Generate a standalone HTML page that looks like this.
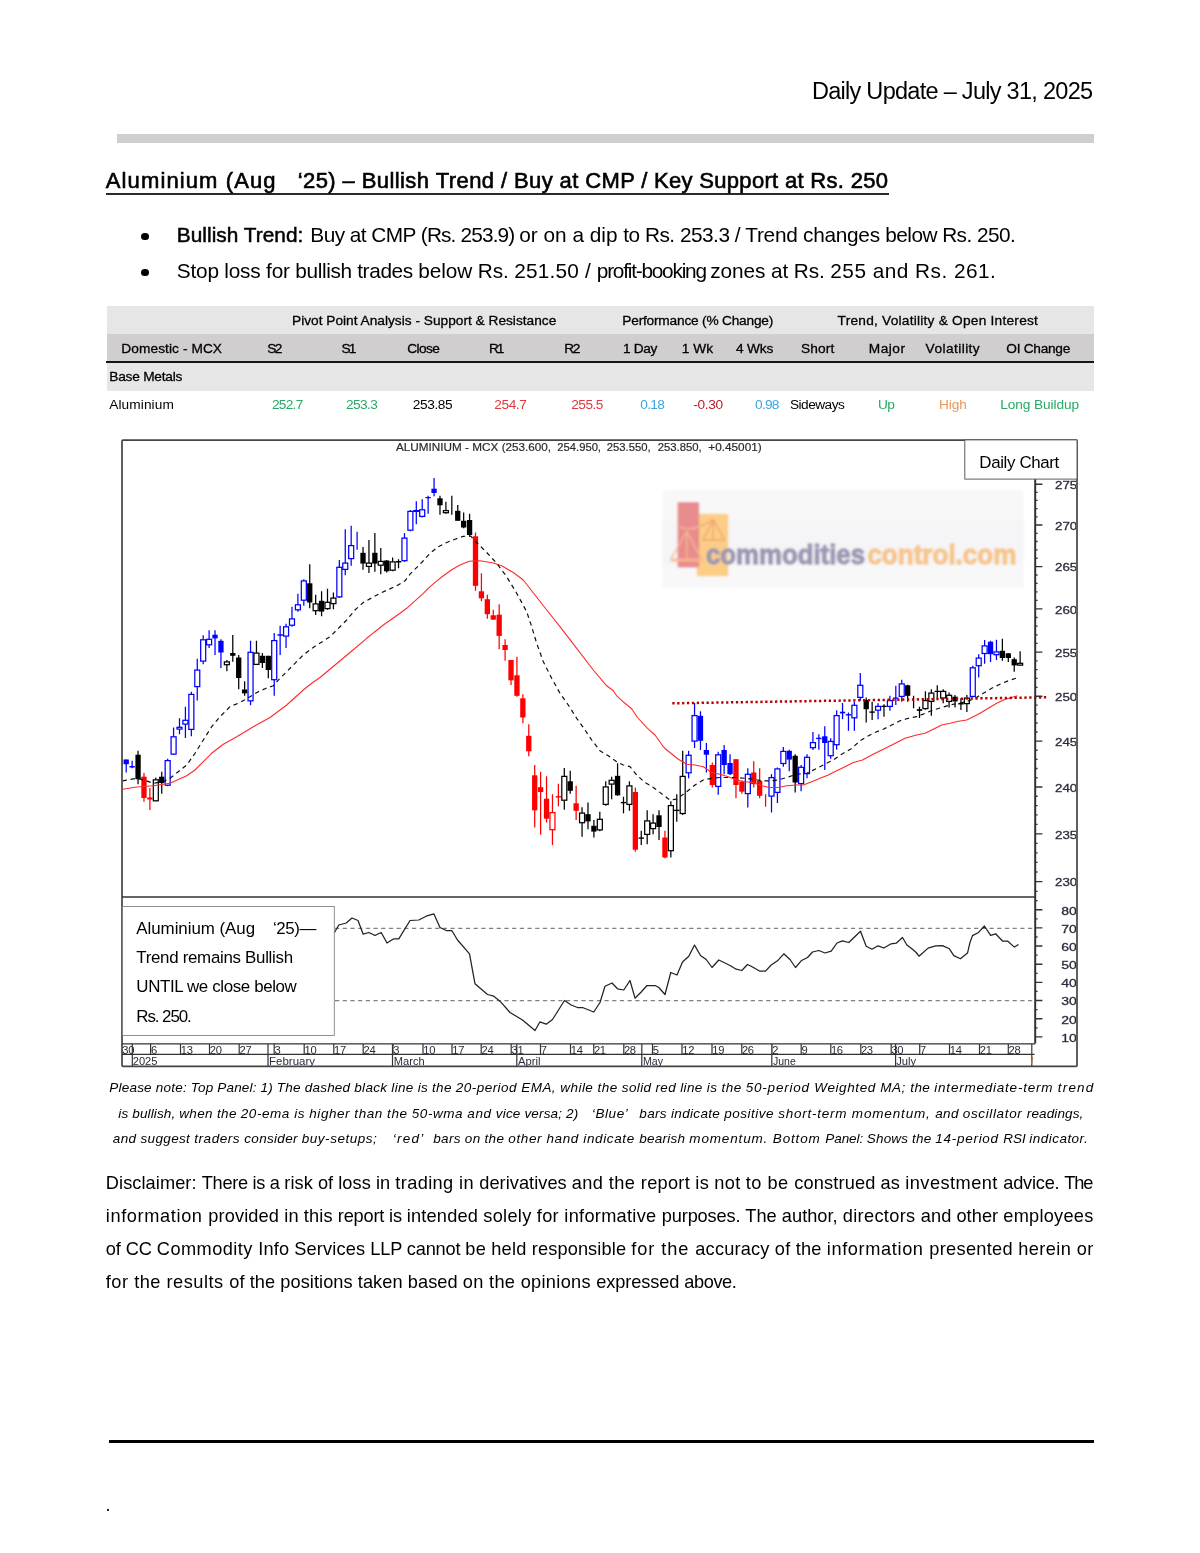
<!DOCTYPE html>
<html><head><meta charset="utf-8"><title>Daily Update</title>
<style>
html,body{margin:0;padding:0;background:#fff;}
body{width:1200px;height:1553px;position:relative;overflow:hidden;font-family:"Liberation Sans", sans-serif;color:#000;}
.t{position:absolute;white-space:pre;}
.r{position:absolute;}
</style></head><body>
<!-- header rule -->
<div class="r" style="left:117px;top:134.3px;width:976.8px;height:8.45px;background:#d0cecf;"></div>
<!-- title underline -->
<div class="r" style="left:106px;top:193px;width:783px;height:1.8px;background:#2a2a2a;"></div>
<!-- bullets -->
<div class="r" style="left:141.3px;top:232.7px;width:7.4px;height:7.4px;border-radius:50%;background:#000;"></div>
<div class="r" style="left:141.3px;top:269.1px;width:7.4px;height:7.4px;border-radius:50%;background:#000;"></div>
<!-- table backgrounds -->
<div class="r" style="left:107px;top:306.1px;width:987px;height:27.8px;background:#e7e6e6;"></div>
<div class="r" style="left:107px;top:333.8px;width:987px;height:27.5px;background:#d0cecf;"></div>
<div class="r" style="left:106.3px;top:360.9px;width:987.7px;height:2.1px;background:#151515;"></div>
<div class="r" style="left:107px;top:363px;width:987px;height:27.8px;background:#e7e6e6;"></div>
<!-- chart -->
<svg class="r" style="left:0;top:0" width="1200" height="1553" viewBox="0 0 1200 1553" font-family="Liberation Sans, sans-serif">
<defs><filter id="bl" x="-2%" y="-2%" width="104%" height="104%"><feGaussianBlur stdDeviation="0.55"/></filter><filter id="bl2" x="-5%" y="-20%" width="110%" height="140%"><feGaussianBlur stdDeviation="0.9"/></filter><clipPath id="cp"><rect x="120.5" y="438.5" width="958.5" height="629"/></clipPath><clipPath id="lab"><rect x="1040" y="441" width="36.0" height="620"/></clipPath><clipPath id="plot"><rect x="122.5" y="441" width="912" height="456"/></clipPath></defs>
<g filter="url(#bl)" clip-path="url(#cp)">
<g filter="url(#bl2)">
<rect x="662.5" y="490" width="361" height="97.5" fill="#f8f8f9"/>
<rect x="662.5" y="520" width="361" height="45" fill="#f5f5f7"/>
<rect x="696.7" y="513.7" width="31.6" height="62.6" rx="1.5" fill="#fccd86"/>
<rect x="677.5" y="502" width="21.7" height="65.5" rx="1.5" fill="#e98c8e"/>
<g stroke="#f6b890" stroke-width="1.4" fill="none" stroke-linejoin="round"><path d="M670.8 559.2 L686.7 531.7 L701.7 559.2 Z"/><path d="M686.7 531.7 V559"/><path d="M670.8 561 H701.7"/><path d="M679 526.7 Q690 531 700 526"/></g>
<g stroke="#f0a272" stroke-width="1.4" fill="none" stroke-linejoin="round"><path d="M702.9 540 L713.3 520 L724.6 540 Z"/><path d="M713.3 520 V540"/><path d="M700 526 Q708 524 713.3 519.2"/></g>
<text x="706" y="564" font-size="28.5" font-weight="700" fill="#9d98b4" stroke="#9d98b4" stroke-width="1.3" stroke-linejoin="round" textLength="159" lengthAdjust="spacingAndGlyphs">commodities</text>
<text x="867.4" y="564" font-size="28.5" font-weight="700" fill="#f6c68c" stroke="#f6c68c" stroke-width="1.3" stroke-linejoin="round" textLength="149" lengthAdjust="spacingAndGlyphs">control.com</text>
</g>
<g clip-path="url(#plot)">
<path d="M120.30 759.5V770.0" stroke="#0000ff" stroke-width="1.25"/>
<rect x="117.65" y="759.5" width="5.3" height="4.7" fill="#0000ff"/>
<path d="M126.22 759.5V772.5" stroke="#0000ff" stroke-width="1.25"/>
<rect x="123.57" y="759.5" width="5.3" height="4.7" fill="#0000ff"/>
<path d="M132.14 760.8V768.3" stroke="#0000ff" stroke-width="1.25"/>
<path d="M129.44 766.7H134.84" stroke="#0000ff" stroke-width="1.4"/>
<path d="M138.06 750.8V784.2" stroke="#000000" stroke-width="1.25"/>
<rect x="135.41" y="754.7" width="5.3" height="24.5" fill="#000000"/>
<path d="M143.98 773.0V801.7" stroke="#ff0000" stroke-width="1.25"/>
<rect x="141.33" y="776.7" width="5.3" height="21.3" fill="#ff0000"/>
<path d="M149.90 788.0V810.0" stroke="#ff0000" stroke-width="1.25"/>
<rect x="147.25" y="797.5" width="5.3" height="2.0" fill="#ff0000"/>
<path d="M155.82 777.5V801.3" stroke="#000000" stroke-width="1.25"/>
<rect x="153.32" y="779.8" width="5.0" height="21.0" fill="#fff" stroke="#000000" stroke-width="1.25"/>
<path d="M161.74 771.7V793.8" stroke="#000000" stroke-width="1.25"/>
<rect x="159.09" y="776.7" width="5.3" height="6.3" fill="#000000"/>
<path d="M167.66 758.8V786.3" stroke="#0000ff" stroke-width="1.25"/>
<rect x="165.16" y="760.6" width="5.0" height="24.6" fill="#fff" stroke="#0000ff" stroke-width="1.25"/>
<path d="M173.58 727.5V755.0" stroke="#0000ff" stroke-width="1.25"/>
<rect x="171.08" y="736.8" width="5.0" height="17.3" fill="#fff" stroke="#0000ff" stroke-width="1.25"/>
<path d="M179.50 718.3V734.2" stroke="#0000ff" stroke-width="1.25"/>
<rect x="177.00" y="727.3" width="5.0" height="1.8" fill="#fff" stroke="#0000ff" stroke-width="1.25"/>
<path d="M185.42 706.7V738.0" stroke="#0000ff" stroke-width="1.25"/>
<rect x="182.92" y="720.3" width="5.0" height="3.8" fill="#fff" stroke="#0000ff" stroke-width="1.25"/>
<path d="M191.34 691.7V736.3" stroke="#0000ff" stroke-width="1.25"/>
<rect x="188.84" y="694.4" width="5.0" height="35.0" fill="#fff" stroke="#0000ff" stroke-width="1.25"/>
<path d="M197.26 658.7V700.5" stroke="#0000ff" stroke-width="1.25"/>
<rect x="194.76" y="670.1" width="5.0" height="16.5" fill="#fff" stroke="#0000ff" stroke-width="1.25"/>
<path d="M203.18 635.3V664.2" stroke="#0000ff" stroke-width="1.25"/>
<rect x="200.68" y="639.8" width="5.0" height="21.3" fill="#fff" stroke="#0000ff" stroke-width="1.25"/>
<path d="M209.10 630.3V648.0" stroke="#0000ff" stroke-width="1.25"/>
<rect x="206.60" y="639.3" width="5.0" height="5.5" fill="#fff" stroke="#0000ff" stroke-width="1.25"/>
<path d="M215.02 630.3V655.0" stroke="#0000ff" stroke-width="1.25"/>
<rect x="212.37" y="634.7" width="5.3" height="3.7" fill="#0000ff"/>
<path d="M220.94 639.2V668.0" stroke="#0000ff" stroke-width="1.25"/>
<rect x="218.29" y="640.8" width="5.3" height="11.7" fill="#0000ff"/>
<path d="M226.86 660.0V671.3" stroke="#000000" stroke-width="1.25"/>
<rect x="224.36" y="661.9" width="5.0" height="2.8" fill="#fff" stroke="#000000" stroke-width="1.25"/>
<path d="M232.78 635.0V661.7" stroke="#000000" stroke-width="1.25"/>
<rect x="230.13" y="653.0" width="5.3" height="2.8" fill="#000000"/>
<path d="M238.70 655.0V689.2" stroke="#000000" stroke-width="1.25"/>
<rect x="236.05" y="657.5" width="5.3" height="20.5" fill="#000000"/>
<path d="M244.62 681.3V695.8" stroke="#000000" stroke-width="1.25"/>
<rect x="241.97" y="689.5" width="5.3" height="3.8" fill="#000000"/>
<path d="M250.54 640.8V705.3" stroke="#0000ff" stroke-width="1.25"/>
<rect x="248.04" y="652.3" width="5.0" height="48.5" fill="#fff" stroke="#0000ff" stroke-width="1.25"/>
<path d="M256.46 640.8V665.0" stroke="#000000" stroke-width="1.25"/>
<rect x="253.96" y="653.1" width="5.0" height="11.3" fill="#fff" stroke="#000000" stroke-width="1.25"/>
<path d="M262.38 653.0V668.0" stroke="#000000" stroke-width="1.25"/>
<rect x="259.73" y="655.8" width="5.3" height="7.2" fill="#000000"/>
<path d="M268.30 655.8V678.3" stroke="#000000" stroke-width="1.25"/>
<rect x="265.65" y="655.8" width="5.3" height="14.2" fill="#000000"/>
<path d="M274.22 633.0V695.8" stroke="#0000ff" stroke-width="1.25"/>
<rect x="271.72" y="640.6" width="5.0" height="39.1" fill="#fff" stroke="#0000ff" stroke-width="1.25"/>
<path d="M280.14 625.8V655.0" stroke="#0000ff" stroke-width="1.25"/>
<path d="M277.44 635.0H282.84" stroke="#0000ff" stroke-width="1.4"/>
<path d="M286.06 623.7V648.0" stroke="#0000ff" stroke-width="1.25"/>
<rect x="283.56" y="626.8" width="5.0" height="9.3" fill="#fff" stroke="#0000ff" stroke-width="1.25"/>
<path d="M291.98 606.7V626.7" stroke="#0000ff" stroke-width="1.25"/>
<rect x="289.48" y="618.9" width="5.0" height="6.3" fill="#fff" stroke="#0000ff" stroke-width="1.25"/>
<path d="M297.90 593.7V611.7" stroke="#0000ff" stroke-width="1.25"/>
<rect x="295.40" y="604.8" width="5.0" height="5.0" fill="#fff" stroke="#0000ff" stroke-width="1.25"/>
<path d="M303.82 579.2V605.8" stroke="#0000ff" stroke-width="1.25"/>
<rect x="301.32" y="580.9" width="5.0" height="19.3" fill="#fff" stroke="#0000ff" stroke-width="1.25"/>
<path d="M309.74 564.2V608.3" stroke="#000000" stroke-width="1.25"/>
<rect x="307.09" y="583.3" width="5.3" height="19.2" fill="#000000"/>
<path d="M315.66 594.7V615.0" stroke="#000000" stroke-width="1.25"/>
<rect x="313.16" y="603.9" width="5.0" height="6.8" fill="#fff" stroke="#000000" stroke-width="1.25"/>
<path d="M321.58 591.3V616.3" stroke="#000000" stroke-width="1.25"/>
<rect x="318.93" y="600.8" width="5.3" height="10.8" fill="#000000"/>
<path d="M327.50 588.7V609.7" stroke="#000000" stroke-width="1.25"/>
<rect x="325.00" y="602.3" width="5.0" height="6.3" fill="#fff" stroke="#000000" stroke-width="1.25"/>
<path d="M333.42 592.5V609.2" stroke="#000000" stroke-width="1.25"/>
<rect x="330.92" y="598.1" width="5.0" height="5.5" fill="#fff" stroke="#000000" stroke-width="1.25"/>
<path d="M339.34 560.0V598.0" stroke="#0000ff" stroke-width="1.25"/>
<rect x="336.84" y="567.3" width="5.0" height="29.6" fill="#fff" stroke="#0000ff" stroke-width="1.25"/>
<path d="M345.26 529.2V575.3" stroke="#0000ff" stroke-width="1.25"/>
<rect x="342.76" y="563.1" width="5.0" height="6.3" fill="#fff" stroke="#0000ff" stroke-width="1.25"/>
<path d="M351.18 525.8V565.8" stroke="#0000ff" stroke-width="1.25"/>
<rect x="348.68" y="545.6" width="5.0" height="13.0" fill="#fff" stroke="#0000ff" stroke-width="1.25"/>
<path d="M357.10 531.7V549.7" stroke="#0000ff" stroke-width="1.25"/>
<path d="M363.02 547.0V569.7" stroke="#000000" stroke-width="1.25"/>
<rect x="360.37" y="552.8" width="5.3" height="10.8" fill="#000000"/>
<path d="M368.94 540.0V573.0" stroke="#000000" stroke-width="1.25"/>
<rect x="366.44" y="563.1" width="5.0" height="3.3" fill="#fff" stroke="#000000" stroke-width="1.25"/>
<path d="M374.86 533.0V571.7" stroke="#000000" stroke-width="1.25"/>
<rect x="372.21" y="552.8" width="5.3" height="10.8" fill="#000000"/>
<path d="M380.78 548.0V574.2" stroke="#000000" stroke-width="1.25"/>
<rect x="378.28" y="561.4" width="5.0" height="3.8" fill="#fff" stroke="#000000" stroke-width="1.25"/>
<path d="M386.70 560.0V572.5" stroke="#000000" stroke-width="1.25"/>
<rect x="384.05" y="560.5" width="5.3" height="10.8" fill="#000000"/>
<path d="M392.62 557.5V571.3" stroke="#000000" stroke-width="1.25"/>
<rect x="390.12" y="561.9" width="5.0" height="8.3" fill="#fff" stroke="#000000" stroke-width="1.25"/>
<path d="M398.54 559.2V568.3" stroke="#000000" stroke-width="1.25"/>
<path d="M395.84 561.8H401.24" stroke="#000000" stroke-width="1.4"/>
<path d="M404.46 533.0V561.7" stroke="#0000ff" stroke-width="1.25"/>
<rect x="401.96" y="538.1" width="5.0" height="22.6" fill="#fff" stroke="#0000ff" stroke-width="1.25"/>
<path d="M410.38 510.0V531.3" stroke="#0000ff" stroke-width="1.25"/>
<rect x="407.88" y="511.4" width="5.0" height="18.8" fill="#fff" stroke="#0000ff" stroke-width="1.25"/>
<path d="M416.30 501.3V524.2" stroke="#0000ff" stroke-width="1.25"/>
<rect x="413.80" y="510.6" width="5.0" height="0.8" fill="#fff" stroke="#0000ff" stroke-width="1.25"/>
<path d="M422.22 499.2V517.5" stroke="#0000ff" stroke-width="1.25"/>
<rect x="419.72" y="509.8" width="5.0" height="6.6" fill="#fff" stroke="#0000ff" stroke-width="1.25"/>
<path d="M428.14 495.8V513.7" stroke="#0000ff" stroke-width="1.25"/>
<path d="M425.44 497.6H430.84" stroke="#0000ff" stroke-width="1.4"/>
<path d="M434.06 478.0V496.3" stroke="#0000ff" stroke-width="1.25"/>
<rect x="431.41" y="488.7" width="5.3" height="4.3" fill="#0000ff"/>
<path d="M439.98 495.8V514.7" stroke="#000000" stroke-width="1.25"/>
<rect x="437.33" y="498.3" width="5.3" height="7.0" fill="#000000"/>
<path d="M445.90 501.7V513.7" stroke="#000000" stroke-width="1.25"/>
<rect x="443.40" y="510.6" width="5.0" height="2.1" fill="#fff" stroke="#000000" stroke-width="1.25"/>
<path d="M451.82 495.8V514.7" stroke="#000000" stroke-width="1.25"/>
<path d="M457.74 505.0V520.8" stroke="#000000" stroke-width="1.25"/>
<rect x="455.09" y="510.8" width="5.3" height="10.0" fill="#000000"/>
<path d="M463.66 512.5V528.3" stroke="#000000" stroke-width="1.25"/>
<rect x="461.01" y="520.8" width="5.3" height="6.7" fill="#000000"/>
<path d="M469.58 513.7V536.7" stroke="#000000" stroke-width="1.25"/>
<rect x="466.93" y="520.0" width="5.3" height="15.0" fill="#000000"/>
<path d="M475.50 532.5V590.8" stroke="#ff0000" stroke-width="1.25"/>
<rect x="472.85" y="536.3" width="5.3" height="49.5" fill="#ff0000"/>
<path d="M481.42 573.3V601.3" stroke="#ff0000" stroke-width="1.25"/>
<rect x="478.77" y="591.3" width="5.3" height="7.0" fill="#ff0000"/>
<path d="M487.34 594.7V618.7" stroke="#ff0000" stroke-width="1.25"/>
<rect x="484.69" y="599.2" width="5.3" height="15.0" fill="#ff0000"/>
<path d="M493.26 609.7V620.0" stroke="#ff0000" stroke-width="1.25"/>
<rect x="490.61" y="615.3" width="5.3" height="4.3" fill="#ff0000"/>
<path d="M499.18 604.2V649.2" stroke="#ff0000" stroke-width="1.25"/>
<rect x="496.53" y="614.7" width="5.3" height="21.2" fill="#ff0000"/>
<path d="M505.10 639.2V660.8" stroke="#ff0000" stroke-width="1.25"/>
<rect x="502.45" y="645.0" width="5.3" height="5.0" fill="#ff0000"/>
<path d="M511.02 660.0V685.0" stroke="#ff0000" stroke-width="1.25"/>
<rect x="508.37" y="660.0" width="5.3" height="20.3" fill="#ff0000"/>
<path d="M516.94 656.7V696.7" stroke="#ff0000" stroke-width="1.25"/>
<rect x="514.29" y="675.3" width="5.3" height="20.5" fill="#ff0000"/>
<path d="M522.86 694.2V723.3" stroke="#ff0000" stroke-width="1.25"/>
<rect x="520.21" y="698.3" width="5.3" height="19.2" fill="#ff0000"/>
<path d="M528.78 724.2V756.3" stroke="#ff0000" stroke-width="1.25"/>
<rect x="526.13" y="735.8" width="5.3" height="15.5" fill="#ff0000"/>
<path d="M534.70 765.0V827.5" stroke="#ff0000" stroke-width="1.25"/>
<rect x="532.05" y="775.3" width="5.3" height="35.0" fill="#ff0000"/>
<path d="M540.62 771.7V834.7" stroke="#ff0000" stroke-width="1.25"/>
<rect x="537.97" y="787.2" width="5.3" height="4.8" fill="#ff0000"/>
<path d="M546.54 776.3V822.5" stroke="#ff0000" stroke-width="1.25"/>
<rect x="543.89" y="798.7" width="5.3" height="20.0" fill="#ff0000"/>
<path d="M552.46 794.2V845.0" stroke="#ff0000" stroke-width="1.25"/>
<rect x="549.96" y="812.6" width="5.0" height="17.1" fill="#fff" stroke="#ff0000" stroke-width="1.25"/>
<path d="M558.38 783.7V806.3" stroke="#ff0000" stroke-width="1.25"/>
<path d="M555.68 796.8H561.08" stroke="#ff0000" stroke-width="1.4"/>
<path d="M564.30 768.0V809.7" stroke="#000000" stroke-width="1.25"/>
<rect x="561.80" y="776.4" width="5.0" height="23.8" fill="#fff" stroke="#000000" stroke-width="1.25"/>
<path d="M570.22 770.8V793.7" stroke="#000000" stroke-width="1.25"/>
<rect x="567.57" y="781.3" width="5.3" height="9.5" fill="#000000"/>
<path d="M576.14 785.8V820.0" stroke="#ff0000" stroke-width="1.25"/>
<rect x="573.49" y="803.3" width="5.3" height="7.5" fill="#ff0000"/>
<path d="M582.06 807.2V836.7" stroke="#000000" stroke-width="1.25"/>
<rect x="579.56" y="813.1" width="5.0" height="9.6" fill="#fff" stroke="#000000" stroke-width="1.25"/>
<path d="M587.98 802.5V829.2" stroke="#000000" stroke-width="1.25"/>
<rect x="585.33" y="814.2" width="5.3" height="7.2" fill="#000000"/>
<path d="M593.90 820.0V837.5" stroke="#000000" stroke-width="1.25"/>
<rect x="591.25" y="825.8" width="5.3" height="5.8" fill="#000000"/>
<path d="M599.82 811.7V831.3" stroke="#000000" stroke-width="1.25"/>
<rect x="597.32" y="819.3" width="5.0" height="10.6" fill="#fff" stroke="#000000" stroke-width="1.25"/>
<path d="M605.74 781.3V805.8" stroke="#000000" stroke-width="1.25"/>
<rect x="603.24" y="786.9" width="5.0" height="17.5" fill="#fff" stroke="#000000" stroke-width="1.25"/>
<path d="M611.66 776.7V799.2" stroke="#000000" stroke-width="1.25"/>
<rect x="609.16" y="780.3" width="5.0" height="3.8" fill="#fff" stroke="#000000" stroke-width="1.25"/>
<path d="M617.58 763.3V795.8" stroke="#000000" stroke-width="1.25"/>
<rect x="614.93" y="775.8" width="5.3" height="19.5" fill="#000000"/>
<path d="M623.50 796.7V813.3" stroke="#000000" stroke-width="1.25"/>
<path d="M620.80 802.6H626.20" stroke="#000000" stroke-width="1.4"/>
<path d="M629.42 781.3V810.8" stroke="#000000" stroke-width="1.25"/>
<rect x="626.92" y="785.9" width="5.0" height="18.5" fill="#fff" stroke="#000000" stroke-width="1.25"/>
<path d="M635.34 787.5V851.7" stroke="#ff0000" stroke-width="1.25"/>
<rect x="632.69" y="792.0" width="5.3" height="57.7" fill="#ff0000"/>
<path d="M641.26 830.8V845.0" stroke="#000000" stroke-width="1.25"/>
<path d="M638.56 838.1H643.96" stroke="#000000" stroke-width="1.4"/>
<path d="M647.18 810.3V844.2" stroke="#000000" stroke-width="1.25"/>
<rect x="644.68" y="820.9" width="5.0" height="13.5" fill="#fff" stroke="#000000" stroke-width="1.25"/>
<path d="M653.10 814.2V834.2" stroke="#000000" stroke-width="1.25"/>
<rect x="650.60" y="823.1" width="5.0" height="5.5" fill="#fff" stroke="#000000" stroke-width="1.25"/>
<path d="M659.02 810.3V840.0" stroke="#000000" stroke-width="1.25"/>
<rect x="656.37" y="815.3" width="5.3" height="11.7" fill="#000000"/>
<path d="M664.94 830.8V858.3" stroke="#ff0000" stroke-width="1.25"/>
<rect x="662.29" y="837.5" width="5.3" height="20.0" fill="#ff0000"/>
<path d="M670.86 801.3V857.5" stroke="#000000" stroke-width="1.25"/>
<rect x="668.36" y="805.6" width="5.0" height="45.1" fill="#fff" stroke="#000000" stroke-width="1.25"/>
<path d="M676.78 794.2V821.7" stroke="#000000" stroke-width="1.25"/>
<path d="M674.08 810.4H679.48" stroke="#000000" stroke-width="1.4"/>
<path d="M682.70 750.8V815.0" stroke="#000000" stroke-width="1.25"/>
<rect x="680.20" y="776.4" width="5.0" height="37.1" fill="#fff" stroke="#000000" stroke-width="1.25"/>
<path d="M688.62 750.8V778.3" stroke="#0000ff" stroke-width="1.25"/>
<rect x="686.12" y="755.3" width="5.0" height="17.5" fill="#fff" stroke="#0000ff" stroke-width="1.25"/>
<path d="M694.54 703.0V748.0" stroke="#0000ff" stroke-width="1.25"/>
<rect x="692.04" y="715.6" width="5.0" height="25.5" fill="#fff" stroke="#0000ff" stroke-width="1.25"/>
<path d="M700.46 711.3V750.0" stroke="#0000ff" stroke-width="1.25"/>
<rect x="697.81" y="715.8" width="5.3" height="25.0" fill="#0000ff"/>
<path d="M706.38 743.0V772.5" stroke="#0000ff" stroke-width="1.25"/>
<rect x="703.73" y="750.0" width="5.3" height="4.7" fill="#0000ff"/>
<path d="M712.30 762.5V787.5" stroke="#ff0000" stroke-width="1.25"/>
<rect x="709.65" y="765.0" width="5.3" height="20.0" fill="#ff0000"/>
<path d="M718.22 751.7V794.7" stroke="#0000ff" stroke-width="1.25"/>
<rect x="715.72" y="754.8" width="5.0" height="31.6" fill="#fff" stroke="#0000ff" stroke-width="1.25"/>
<path d="M724.14 745.0V774.2" stroke="#0000ff" stroke-width="1.25"/>
<rect x="721.49" y="750.0" width="5.3" height="15.0" fill="#0000ff"/>
<path d="M730.06 754.2V775.0" stroke="#0000ff" stroke-width="1.25"/>
<rect x="727.41" y="763.0" width="5.3" height="11.2" fill="#0000ff"/>
<path d="M735.98 759.2V798.3" stroke="#ff0000" stroke-width="1.25"/>
<rect x="733.33" y="759.2" width="5.3" height="25.8" fill="#ff0000"/>
<path d="M741.90 780.8V793.7" stroke="#ff0000" stroke-width="1.25"/>
<rect x="739.25" y="781.7" width="5.3" height="10.0" fill="#ff0000"/>
<path d="M747.82 768.3V807.5" stroke="#0000ff" stroke-width="1.25"/>
<rect x="745.32" y="774.3" width="5.0" height="19.3" fill="#fff" stroke="#0000ff" stroke-width="1.25"/>
<path d="M753.74 761.3V787.5" stroke="#ff0000" stroke-width="1.25"/>
<rect x="751.09" y="772.5" width="5.3" height="11.7" fill="#ff0000"/>
<path d="M759.66 768.3V798.3" stroke="#ff0000" stroke-width="1.25"/>
<rect x="757.01" y="780.8" width="5.3" height="15.0" fill="#ff0000"/>
<path d="M765.58 794.2V806.7" stroke="#ff0000" stroke-width="1.25"/>
<path d="M771.50 774.2V812.5" stroke="#0000ff" stroke-width="1.25"/>
<rect x="769.00" y="777.6" width="5.0" height="18.5" fill="#fff" stroke="#0000ff" stroke-width="1.25"/>
<path d="M777.42 767.5V803.0" stroke="#0000ff" stroke-width="1.25"/>
<rect x="774.92" y="768.9" width="5.0" height="23.5" fill="#fff" stroke="#0000ff" stroke-width="1.25"/>
<path d="M783.34 747.0V766.7" stroke="#0000ff" stroke-width="1.25"/>
<rect x="780.84" y="751.4" width="5.0" height="12.1" fill="#fff" stroke="#0000ff" stroke-width="1.25"/>
<path d="M789.26 749.7V771.3" stroke="#0000ff" stroke-width="1.25"/>
<rect x="786.61" y="750.8" width="5.3" height="8.8" fill="#0000ff"/>
<path d="M795.18 754.2V792.5" stroke="#000000" stroke-width="1.25"/>
<rect x="792.53" y="755.8" width="5.3" height="26.7" fill="#000000"/>
<path d="M801.10 765.0V791.3" stroke="#0000ff" stroke-width="1.25"/>
<rect x="798.60" y="767.3" width="5.0" height="16.3" fill="#fff" stroke="#0000ff" stroke-width="1.25"/>
<path d="M807.02 754.2V778.3" stroke="#0000ff" stroke-width="1.25"/>
<rect x="804.52" y="757.3" width="5.0" height="16.3" fill="#fff" stroke="#0000ff" stroke-width="1.25"/>
<path d="M812.94 732.0V750.0" stroke="#0000ff" stroke-width="1.25"/>
<rect x="810.44" y="742.6" width="5.0" height="5.1" fill="#fff" stroke="#0000ff" stroke-width="1.25"/>
<path d="M818.86 734.2V749.7" stroke="#0000ff" stroke-width="1.25"/>
<path d="M816.16 738.4H821.56" stroke="#0000ff" stroke-width="1.4"/>
<path d="M824.78 726.3V770.0" stroke="#0000ff" stroke-width="1.25"/>
<rect x="822.13" y="736.3" width="5.3" height="6.7" fill="#0000ff"/>
<path d="M830.70 738.3V758.7" stroke="#0000ff" stroke-width="1.25"/>
<rect x="828.20" y="741.4" width="5.0" height="14.3" fill="#fff" stroke="#0000ff" stroke-width="1.25"/>
<path d="M836.62 710.3V749.7" stroke="#0000ff" stroke-width="1.25"/>
<rect x="834.12" y="715.6" width="5.0" height="29.1" fill="#fff" stroke="#0000ff" stroke-width="1.25"/>
<path d="M842.54 703.0V719.2" stroke="#0000ff" stroke-width="1.25"/>
<rect x="839.89" y="711.7" width="5.3" height="1.7" fill="#0000ff"/>
<path d="M848.46 712.5V730.8" stroke="#0000ff" stroke-width="1.25"/>
<path d="M845.76 714.8H851.16" stroke="#0000ff" stroke-width="1.4"/>
<path d="M854.38 701.7V730.8" stroke="#0000ff" stroke-width="1.25"/>
<rect x="851.88" y="705.3" width="5.0" height="12.5" fill="#fff" stroke="#0000ff" stroke-width="1.25"/>
<path d="M860.30 673.0V700.8" stroke="#0000ff" stroke-width="1.25"/>
<rect x="857.80" y="685.3" width="5.0" height="12.1" fill="#fff" stroke="#0000ff" stroke-width="1.25"/>
<path d="M866.22 697.5V722.5" stroke="#000000" stroke-width="1.25"/>
<rect x="863.57" y="700.0" width="5.3" height="9.2" fill="#000000"/>
<path d="M872.14 701.7V720.0" stroke="#000000" stroke-width="1.25"/>
<path d="M869.44 712.1H874.84" stroke="#000000" stroke-width="1.4"/>
<path d="M878.06 703.3V719.2" stroke="#0000ff" stroke-width="1.25"/>
<rect x="875.56" y="706.4" width="5.0" height="3.8" fill="#fff" stroke="#0000ff" stroke-width="1.25"/>
<path d="M883.98 704.2V716.7" stroke="#000000" stroke-width="1.25"/>
<path d="M881.28 706.4H886.68" stroke="#000000" stroke-width="1.4"/>
<path d="M889.90 695.8V710.8" stroke="#0000ff" stroke-width="1.25"/>
<rect x="887.40" y="700.6" width="5.0" height="5.8" fill="#fff" stroke="#0000ff" stroke-width="1.25"/>
<path d="M895.82 685.8V705.0" stroke="#0000ff" stroke-width="1.25"/>
<path d="M893.12 698.1H898.52" stroke="#0000ff" stroke-width="1.4"/>
<path d="M901.74 679.7V701.7" stroke="#0000ff" stroke-width="1.25"/>
<rect x="899.24" y="683.9" width="5.0" height="12.5" fill="#fff" stroke="#0000ff" stroke-width="1.25"/>
<path d="M907.66 684.7V701.7" stroke="#000000" stroke-width="1.25"/>
<rect x="905.01" y="685.3" width="5.3" height="10.5" fill="#000000"/>
<path d="M913.58 695.8V708.3" stroke="#000000" stroke-width="1.25"/>
<path d="M919.50 706.7V718.0" stroke="#000000" stroke-width="1.25"/>
<rect x="916.85" y="709.2" width="5.3" height="1.7" fill="#000000"/>
<path d="M925.42 691.3V709.7" stroke="#000000" stroke-width="1.25"/>
<rect x="922.92" y="700.6" width="5.0" height="8.0" fill="#fff" stroke="#000000" stroke-width="1.25"/>
<path d="M931.34 689.2V715.8" stroke="#000000" stroke-width="1.25"/>
<rect x="928.84" y="693.1" width="5.0" height="8.3" fill="#fff" stroke="#000000" stroke-width="1.25"/>
<path d="M937.26 685.3V698.3" stroke="#000000" stroke-width="1.25"/>
<path d="M934.56 691.4H939.96" stroke="#000000" stroke-width="1.4"/>
<path d="M943.18 689.2V703.3" stroke="#000000" stroke-width="1.25"/>
<rect x="940.68" y="691.4" width="5.0" height="6.6" fill="#fff" stroke="#000000" stroke-width="1.25"/>
<path d="M949.10 692.5V707.5" stroke="#000000" stroke-width="1.25"/>
<rect x="946.60" y="695.3" width="5.0" height="6.1" fill="#fff" stroke="#000000" stroke-width="1.25"/>
<path d="M955.02 695.0V707.5" stroke="#000000" stroke-width="1.25"/>
<rect x="952.37" y="696.7" width="5.3" height="4.7" fill="#000000"/>
<path d="M960.94 698.3V710.0" stroke="#000000" stroke-width="1.25"/>
<path d="M958.24 703.8H963.64" stroke="#000000" stroke-width="1.4"/>
<path d="M966.86 695.0V712.0" stroke="#000000" stroke-width="1.25"/>
<rect x="964.36" y="698.1" width="5.0" height="5.5" fill="#fff" stroke="#000000" stroke-width="1.25"/>
<path d="M972.78 665.8V697.5" stroke="#0000ff" stroke-width="1.25"/>
<rect x="970.28" y="667.8" width="5.0" height="28.6" fill="#fff" stroke="#0000ff" stroke-width="1.25"/>
<path d="M978.70 654.2V677.5" stroke="#0000ff" stroke-width="1.25"/>
<rect x="976.20" y="658.1" width="5.0" height="7.6" fill="#fff" stroke="#0000ff" stroke-width="1.25"/>
<path d="M984.62 640.0V663.7" stroke="#0000ff" stroke-width="1.25"/>
<rect x="982.12" y="645.9" width="5.0" height="7.6" fill="#fff" stroke="#0000ff" stroke-width="1.25"/>
<path d="M990.54 640.8V662.0" stroke="#0000ff" stroke-width="1.25"/>
<rect x="987.89" y="641.7" width="5.3" height="12.5" fill="#0000ff"/>
<path d="M996.46 639.7V660.0" stroke="#0000ff" stroke-width="1.25"/>
<rect x="993.96" y="651.9" width="5.0" height="2.8" fill="#fff" stroke="#0000ff" stroke-width="1.25"/>
<path d="M1002.38 638.7V660.8" stroke="#000000" stroke-width="1.25"/>
<rect x="999.73" y="650.8" width="5.3" height="7.2" fill="#000000"/>
<path d="M1008.30 653.3V662.0" stroke="#000000" stroke-width="1.25"/>
<rect x="1005.65" y="653.3" width="5.3" height="4.7" fill="#000000"/>
<path d="M1014.22 657.5V671.7" stroke="#000000" stroke-width="1.25"/>
<rect x="1011.57" y="659.2" width="5.3" height="6.2" fill="#000000"/>
<path d="M1020.14 651.3V665.8" stroke="#000000" stroke-width="1.25"/>
<rect x="1017.64" y="663.3" width="5.0" height="1.8" fill="#fff" stroke="#000000" stroke-width="1.25"/>
</g>
<g clip-path="url(#plot)"><path d="M122.5 789.2 L136.7 787.0 L153.3 785.8 L170.0 783.3 L186.7 775.8 L195.0 770.0 L203.3 761.7 L211.7 753.3 L223.3 744.2 L236.7 736.7 L253.3 726.7 L270.0 717.5 L286.7 705.0 L295.0 697.5 L303.3 690.0 L311.7 683.3 L320.0 677.5 L335.0 665.0 L350.0 652.5 L366.7 638.3 L383.3 625.0 L400.0 613.3 L406.7 608.3 L423.3 593.3 L430.0 586.7 L440.0 578.3 L451.7 569.7 L460.0 565.0 L469.2 561.2 L480.0 560.8 L493.3 563.0 L501.7 565.8 L513.3 572.5 L523.3 580.0 L535.0 595.0 L546.7 610.0 L560.0 626.7 L576.7 648.3 L593.3 670.0 L606.7 685.8 L613.3 690.8 L616.7 695.8 L625.0 703.3 L631.7 708.8 L637.5 717.5 L647.5 728.3 L655.0 735.0 L663.3 746.7 L666.7 750.0 L670.0 752.5 L678.3 759.2 L686.7 764.2 L695.0 765.0 L703.3 766.7 L711.7 772.5 L720.0 774.2 L728.3 776.7 L736.7 780.0 L745.0 781.7 L753.3 782.5 L761.7 785.8 L770.0 787.5 L778.3 787.5 L786.7 785.8 L796.7 785.0 L803.3 785.0 L811.7 781.7 L820.0 778.3 L828.3 775.0 L836.7 770.8 L845.0 766.7 L853.3 762.5 L862.5 760.0 L871.7 755.0 L883.3 749.2 L893.3 744.2 L905.0 738.3 L916.7 735.0 L925.0 733.3 L933.3 729.2 L941.7 725.0 L950.0 723.3 L958.3 721.3 L966.7 720.0 L973.3 716.7 L980.0 713.3 L988.3 708.3 L996.7 703.3 L1005.0 699.2 L1011.7 697.5 L1017.5 695.8" fill="none" stroke="#ff2a2a" stroke-width="1.1" stroke-linejoin="round"/>
<path d="M122.5 780.8 L136.7 778.3 L145.0 780.3 L153.3 783.3 L163.3 781.7 L170.0 778.3 L178.3 771.7 L186.7 765.0 L195.0 753.3 L203.3 740.0 L211.7 726.7 L220.0 716.7 L230.0 706.7 L240.0 702.5 L250.0 696.7 L258.3 691.7 L266.7 688.0 L273.3 685.8 L280.0 678.3 L286.7 671.7 L295.0 663.3 L303.3 655.0 L312.5 647.9 L330.0 636.7 L346.7 620.0 L355.0 610.0 L363.3 602.5 L380.0 593.3 L396.7 585.8 L405.0 580.8 L410.0 574.2 L421.7 562.5 L430.0 553.3 L438.3 546.7 L446.7 542.5 L455.0 539.2 L463.3 536.3 L470.8 536.1 L476.7 542.5 L486.7 552.5 L496.7 563.3 L506.7 576.7 L516.7 593.3 L526.7 611.7 L531.7 626.7 L536.7 643.3 L543.3 661.7 L551.7 678.3 L560.0 693.3 L568.3 705.0 L576.7 718.3 L583.3 727.5 L591.7 740.0 L600.0 750.8 L608.3 755.8 L616.7 761.7 L623.3 765.0 L630.0 766.7 L636.7 775.0 L645.0 782.5 L653.3 787.5 L663.3 795.0 L670.0 800.0 L676.7 799.2 L680.0 796.7 L686.7 791.7 L695.0 785.0 L703.3 780.0 L711.7 778.3 L720.0 777.5 L736.7 777.5 L745.0 778.3 L753.3 779.2 L761.7 780.8 L770.0 780.8 L778.3 780.0 L786.7 777.5 L796.7 774.2 L806.7 773.3 L815.0 769.2 L823.3 765.0 L833.3 760.0 L841.7 754.2 L851.2 748.8 L860.0 740.8 L866.7 736.7 L875.0 732.5 L883.3 729.2 L891.7 725.0 L900.0 720.8 L908.3 718.3 L916.7 716.7 L925.0 713.3 L933.3 710.0 L941.7 707.5 L950.0 705.0 L958.3 703.3 L966.7 701.7 L975.0 698.3 L983.3 693.3 L991.7 688.3 L1000.0 684.2 L1008.3 680.8 L1018.3 677.5" fill="none" stroke="#111" stroke-width="1.2" stroke-dasharray="4.4 3.8" stroke-linejoin="round"/></g>
<path d="M672.3 703.3 L1046.8 697.3" stroke="#b80000" stroke-width="2.5" stroke-dasharray="2.3 2.59" fill="none"/>
<path d="M335 928.4H1034.5M335 1000.6H1034.5" stroke="#808080" stroke-width="1.1" stroke-dasharray="4.2 3.5" fill="none"/>
<path d="M334.5 932.5 L338.8 925.0 L346.2 923.0 L352.0 918.0 L358.0 920.5 L363.2 934.2 L368.8 932.5 L375.0 935.5 L381.2 932.5 L387.0 943.0 L393.8 938.8 L398.8 938.8 L410.0 920.5 L418.8 920.0 L426.2 916.2 L433.8 913.8 L440.0 927.5 L446.2 930.5 L451.8 930.5 L457.5 940.0 L469.5 953.8 L475.0 983.8 L487.5 994.5 L493.8 996.2 L500.0 1001.2 L510.0 1012.5 L522.5 1020.0 L535.0 1030.5 L540.0 1021.8 L546.2 1024.2 L552.5 1019.5 L564.5 1000.5 L571.2 1005.0 L577.5 1007.5 L582.5 1007.5 L593.8 1012.0 L600.0 1002.5 L605.0 986.2 L612.0 983.0 L617.5 988.8 L623.8 990.0 L630.0 980.5 L635.0 998.2 L641.2 992.0 L647.0 985.5 L655.0 985.5 L658.8 987.5 L665.0 994.5 L670.8 972.5 L677.0 975.0 L682.5 962.0 L688.8 956.2 L694.5 945.0 L700.5 955.5 L706.2 959.5 L712.0 967.5 L718.8 960.0 L725.0 963.0 L730.0 965.5 L736.2 969.2 L741.8 970.5 L747.5 964.5 L751.2 966.2 L760.0 971.2 L765.5 971.2 L771.2 965.0 L777.5 960.8 L783.8 953.8 L790.0 959.5 L795.5 967.5 L801.2 960.8 L807.5 957.5 L812.5 952.0 L818.8 950.5 L825.0 953.0 L831.2 951.2 L837.0 943.0 L842.5 940.8 L848.8 942.5 L860.5 931.2 L866.2 946.2 L872.0 949.2 L878.0 945.8 L883.8 948.0 L891.2 943.8 L896.2 943.2 L900.0 939.8 L902.5 937.5 L906.9 945.0 L911.9 948.8 L916.2 952.5 L919.0 956.2 L928.1 948.1 L935.6 945.9 L942.5 945.6 L949.4 948.8 L953.8 955.6 L960.4 958.8 L967.5 953.1 L970.0 942.5 L972.5 935.6 L978.1 932.8 L984.4 926.0 L990.6 935.4 L995.6 933.8 L1002.5 941.0 L1007.5 941.0 L1014.4 947.1 L1018.5 944.4" fill="none" stroke="#222" stroke-width="1.25" stroke-linejoin="round"/>
<rect x="122" y="440.1" width="955.0" height="626.2" rx="1" stroke="#444" stroke-width="1.7" fill="none"/>
<path d="M1035.2 478V1043.5" stroke="#333" stroke-width="2" fill="none"/>
<path d="M122 897H1035.2" stroke="#333" stroke-width="1.6" fill="none"/>
<path d="M122 1043.8H1035.2M122 1054.4H1034.5M1031.8 1044V1066" stroke="#333" stroke-width="1.15" fill="none"/>
<path d="M1035.2 891.3H1037.6M1035.2 881.6H1042.4M1035.2 872.0H1037.6M1035.2 862.4H1037.6M1035.2 852.8H1037.6M1035.2 843.3H1037.6M1035.2 833.8H1042.4M1035.2 824.3H1037.6M1035.2 814.9H1037.6M1035.2 805.6H1037.6M1035.2 796.2H1037.6M1035.2 787.0H1042.4M1035.2 777.7H1037.6M1035.2 768.5H1037.6M1035.2 759.3H1037.6M1035.2 750.2H1037.6M1035.2 741.1H1042.4M1035.2 732.0H1037.6M1035.2 723.0H1037.6M1035.2 714.0H1037.6M1035.2 705.1H1037.6M1035.2 696.2H1042.4M1035.2 687.3H1037.6M1035.2 678.4H1037.6M1035.2 669.6H1037.6M1035.2 660.9H1037.6M1035.2 652.1H1042.4M1035.2 643.4H1037.6M1035.2 634.8H1037.6M1035.2 626.1H1037.6M1035.2 617.5H1037.6M1035.2 608.9H1042.4M1035.2 600.4H1037.6M1035.2 591.9H1037.6M1035.2 583.4H1037.6M1035.2 575.0H1037.6M1035.2 566.6H1042.4M1035.2 558.2H1037.6M1035.2 549.9H1037.6M1035.2 541.5H1037.6M1035.2 533.3H1037.6M1035.2 525.0H1042.4M1035.2 516.8H1037.6M1035.2 508.6H1037.6M1035.2 500.4H1037.6M1035.2 492.3H1037.6M1035.2 484.2H1042.4M1035.2 1036.8H1042.4M1035.2 1027.8H1037.6M1035.2 1018.7H1042.4M1035.2 1009.6H1037.6M1035.2 1000.5H1042.4M1035.2 991.4H1037.6M1035.2 982.4H1042.4M1035.2 973.3H1037.6M1035.2 964.2H1042.4M1035.2 955.1H1037.6M1035.2 946.0H1042.4M1035.2 937.0H1037.6M1035.2 927.9H1042.4M1035.2 918.8H1037.6M1035.2 909.7H1042.4M1035.2 900.6H1037.6" stroke="#333" stroke-width="1.35" fill="none"/>
<g clip-path="url(#lab)">
<text x="1055.0" y="886.3" font-size="11.7" fill="#2b2b3c" stroke="#2b2b3c" stroke-width="0.3" textLength="22.2" lengthAdjust="spacingAndGlyphs">230</text>
<text x="1055.0" y="838.5" font-size="11.7" fill="#2b2b3c" stroke="#2b2b3c" stroke-width="0.3" textLength="22.2" lengthAdjust="spacingAndGlyphs">235</text>
<text x="1055.0" y="791.7" font-size="11.7" fill="#2b2b3c" stroke="#2b2b3c" stroke-width="0.3" textLength="22.2" lengthAdjust="spacingAndGlyphs">240</text>
<text x="1055.0" y="745.8" font-size="11.7" fill="#2b2b3c" stroke="#2b2b3c" stroke-width="0.3" textLength="22.2" lengthAdjust="spacingAndGlyphs">245</text>
<text x="1055.0" y="700.9" font-size="11.7" fill="#2b2b3c" stroke="#2b2b3c" stroke-width="0.3" textLength="22.2" lengthAdjust="spacingAndGlyphs">250</text>
<text x="1055.0" y="656.8" font-size="11.7" fill="#2b2b3c" stroke="#2b2b3c" stroke-width="0.3" textLength="22.2" lengthAdjust="spacingAndGlyphs">255</text>
<text x="1055.0" y="613.6" font-size="11.7" fill="#2b2b3c" stroke="#2b2b3c" stroke-width="0.3" textLength="22.2" lengthAdjust="spacingAndGlyphs">260</text>
<text x="1055.0" y="571.3" font-size="11.7" fill="#2b2b3c" stroke="#2b2b3c" stroke-width="0.3" textLength="22.2" lengthAdjust="spacingAndGlyphs">265</text>
<text x="1055.0" y="529.7" font-size="11.7" fill="#2b2b3c" stroke="#2b2b3c" stroke-width="0.3" textLength="22.2" lengthAdjust="spacingAndGlyphs">270</text>
<text x="1055.0" y="488.9" font-size="11.7" fill="#2b2b3c" stroke="#2b2b3c" stroke-width="0.3" textLength="22.2" lengthAdjust="spacingAndGlyphs">275</text>
<text x="1061.3" y="1041.7" font-size="11.7" fill="#2b2b3c" stroke="#2b2b3c" stroke-width="0.3" textLength="15.6" lengthAdjust="spacingAndGlyphs">10</text>
<text x="1061.3" y="1023.6" font-size="11.7" fill="#2b2b3c" stroke="#2b2b3c" stroke-width="0.3" textLength="15.6" lengthAdjust="spacingAndGlyphs">20</text>
<text x="1061.3" y="1005.4" font-size="11.7" fill="#2b2b3c" stroke="#2b2b3c" stroke-width="0.3" textLength="15.6" lengthAdjust="spacingAndGlyphs">30</text>
<text x="1061.3" y="987.3" font-size="11.7" fill="#2b2b3c" stroke="#2b2b3c" stroke-width="0.3" textLength="15.6" lengthAdjust="spacingAndGlyphs">40</text>
<text x="1061.3" y="969.1" font-size="11.7" fill="#2b2b3c" stroke="#2b2b3c" stroke-width="0.3" textLength="15.6" lengthAdjust="spacingAndGlyphs">50</text>
<text x="1061.3" y="950.9" font-size="11.7" fill="#2b2b3c" stroke="#2b2b3c" stroke-width="0.3" textLength="15.6" lengthAdjust="spacingAndGlyphs">60</text>
<text x="1061.3" y="932.8" font-size="11.7" fill="#2b2b3c" stroke="#2b2b3c" stroke-width="0.3" textLength="15.6" lengthAdjust="spacingAndGlyphs">70</text>
<text x="1061.3" y="914.6" font-size="11.7" fill="#2b2b3c" stroke="#2b2b3c" stroke-width="0.3" textLength="15.6" lengthAdjust="spacingAndGlyphs">80</text>
</g>
<text x="122.3" y="1053.5" font-size="11.2" fill="#2b2b3c" letter-spacing="-0.35">30</text>
<text x="150.9" y="1053.5" font-size="11.2" fill="#2b2b3c" letter-spacing="-0.35">6</text>
<text x="180.8" y="1053.5" font-size="11.2" fill="#2b2b3c" letter-spacing="-0.35">13</text>
<text x="209.8" y="1053.5" font-size="11.2" fill="#2b2b3c" letter-spacing="-0.35">20</text>
<text x="239.6" y="1053.5" font-size="11.2" fill="#2b2b3c" letter-spacing="-0.35">27</text>
<text x="274.6" y="1053.5" font-size="11.2" fill="#2b2b3c" letter-spacing="-0.35">3</text>
<text x="304.6" y="1053.5" font-size="11.2" fill="#2b2b3c" letter-spacing="-0.35">10</text>
<text x="334.1" y="1053.5" font-size="11.2" fill="#2b2b3c" letter-spacing="-0.35">17</text>
<text x="363.6" y="1053.5" font-size="11.2" fill="#2b2b3c" letter-spacing="-0.35">24</text>
<text x="393.3" y="1053.5" font-size="11.2" fill="#2b2b3c" letter-spacing="-0.35">3</text>
<text x="423.3" y="1053.5" font-size="11.2" fill="#2b2b3c" letter-spacing="-0.35">10</text>
<text x="452.3" y="1053.5" font-size="11.2" fill="#2b2b3c" letter-spacing="-0.35">17</text>
<text x="481.6" y="1053.5" font-size="11.2" fill="#2b2b3c" letter-spacing="-0.35">24</text>
<text x="511.6" y="1053.5" font-size="11.2" fill="#2b2b3c" letter-spacing="-0.35">31</text>
<text x="540.8" y="1053.5" font-size="11.2" fill="#2b2b3c" letter-spacing="-0.35">7</text>
<text x="570.8" y="1053.5" font-size="11.2" fill="#2b2b3c" letter-spacing="-0.35">14</text>
<text x="594.0" y="1053.5" font-size="11.2" fill="#2b2b3c" letter-spacing="-0.35">21</text>
<text x="624.0" y="1053.5" font-size="11.2" fill="#2b2b3c" letter-spacing="-0.35">28</text>
<text x="652.8" y="1053.5" font-size="11.2" fill="#2b2b3c" letter-spacing="-0.35">5</text>
<text x="682.3" y="1053.5" font-size="11.2" fill="#2b2b3c" letter-spacing="-0.35">12</text>
<text x="712.3" y="1053.5" font-size="11.2" fill="#2b2b3c" letter-spacing="-0.35">19</text>
<text x="742.0" y="1053.5" font-size="11.2" fill="#2b2b3c" letter-spacing="-0.35">26</text>
<text x="772.3" y="1053.5" font-size="11.2" fill="#2b2b3c" letter-spacing="-0.35">2</text>
<text x="801.5" y="1053.5" font-size="11.2" fill="#2b2b3c" letter-spacing="-0.35">9</text>
<text x="831.0" y="1053.5" font-size="11.2" fill="#2b2b3c" letter-spacing="-0.35">16</text>
<text x="861.0" y="1053.5" font-size="11.2" fill="#2b2b3c" letter-spacing="-0.35">23</text>
<text x="891.5" y="1053.5" font-size="11.2" fill="#2b2b3c" letter-spacing="-0.35">30</text>
<text x="920.0" y="1053.5" font-size="11.2" fill="#2b2b3c" letter-spacing="-0.35">7</text>
<text x="949.8" y="1053.5" font-size="11.2" fill="#2b2b3c" letter-spacing="-0.35">14</text>
<text x="979.8" y="1053.5" font-size="11.2" fill="#2b2b3c" letter-spacing="-0.35">21</text>
<text x="1008.6" y="1053.5" font-size="11.2" fill="#2b2b3c" letter-spacing="-0.35">28</text>
<text x="132.7" y="1064.5" font-size="11.2" fill="#2b2b3c" textLength="24.8" lengthAdjust="spacingAndGlyphs">2025</text>
<text x="269.0" y="1064.5" font-size="11.2" fill="#2b2b3c" textLength="46.0" lengthAdjust="spacingAndGlyphs">February</text>
<text x="393.8" y="1064.5" font-size="11.2" fill="#2b2b3c" textLength="30.8" lengthAdjust="spacingAndGlyphs">March</text>
<text x="518.0" y="1064.5" font-size="11.2" fill="#2b2b3c" textLength="22.5" lengthAdjust="spacingAndGlyphs">April</text>
<text x="643.0" y="1064.5" font-size="11.2" fill="#2b2b3c" textLength="20.0" lengthAdjust="spacingAndGlyphs">May</text>
<text x="773.0" y="1064.5" font-size="11.2" fill="#2b2b3c" textLength="22.8" lengthAdjust="spacingAndGlyphs">June</text>
<text x="896.2" y="1064.5" font-size="11.2" fill="#2b2b3c" textLength="20.0" lengthAdjust="spacingAndGlyphs">July</text>
<path d="M150.6 1044V1054.4M180.5 1044V1054.4M209.5 1044V1054.4M239.2 1044V1054.4M274.2 1044V1054.4M304.2 1044V1054.4M333.8 1044V1054.4M363.2 1044V1054.4M393.0 1044V1054.4M423.0 1044V1054.4M452.0 1044V1054.4M481.2 1044V1054.4M511.2 1044V1054.4M540.5 1044V1054.4M570.5 1044V1054.4M593.8 1044V1054.4M623.8 1044V1054.4M652.5 1044V1054.4M682.0 1044V1054.4M712.0 1044V1054.4M741.8 1044V1054.4M772.0 1044V1054.4M801.2 1044V1054.4M830.8 1044V1054.4M860.8 1044V1054.4M891.2 1044V1054.4M919.7 1044V1054.4M949.5 1044V1054.4M979.5 1044V1054.4M1008.3 1044V1054.4M132.3 1044V1066M268.0 1044V1066M392.5 1044V1066M516.8 1044V1066M641.8 1044V1066M771.8 1044V1066M895.6 1044V1066" stroke="#333" stroke-width="1.2" fill="none"/>
<path d="M1032.5 1057L1031.6 1064" stroke="#c86a20" stroke-width="1.2"/>
<text x="396" y="450.7" font-size="11.6" fill="#2a2a2a" stroke="#2a2a2a" stroke-width="0.2" textLength="102.3" lengthAdjust="spacingAndGlyphs">ALUMINIUM - MCX</text>
<text x="501.7" y="450.7" font-size="11.6" fill="#2a2a2a" stroke="#2a2a2a" stroke-width="0.2" textLength="49.3" lengthAdjust="spacingAndGlyphs">(253.600,</text>
<text x="557.3" y="450.7" font-size="11.6" fill="#2a2a2a" stroke="#2a2a2a" stroke-width="0.2" textLength="43.7" lengthAdjust="spacingAndGlyphs">254.950,</text>
<text x="606.7" y="450.7" font-size="11.6" fill="#2a2a2a" stroke="#2a2a2a" stroke-width="0.2" textLength="44.0" lengthAdjust="spacingAndGlyphs">253.550,</text>
<text x="657.7" y="450.7" font-size="11.6" fill="#2a2a2a" stroke="#2a2a2a" stroke-width="0.2" textLength="44.0" lengthAdjust="spacingAndGlyphs">253.850,</text>
<text x="708.3" y="450.7" font-size="11.6" fill="#2a2a2a" stroke="#2a2a2a" stroke-width="0.2" textLength="53.4" lengthAdjust="spacingAndGlyphs">+0.45001)</text>
</g>
<rect x="964.8" y="439.9" width="112.2" height="39.2" fill="#fff" stroke="#555" stroke-width="0.95"/>
<rect x="122.6" y="906.5" width="211.7" height="128.9" fill="#fff" stroke="#7c7c7c" stroke-width="0.85"/>
</svg>
<!-- footer rule -->
<div class="r" style="left:109px;top:1440.1px;width:985px;height:2.9px;background:#000;"></div>
<div class="r" style="left:107px;top:1508.8px;width:2px;height:2px;background:#222;"></div>
<div id="txt" style="position:absolute;left:0;top:0;width:1200px;height:1553px;will-change:transform;">
<span class="t" style="left:811.90px;top:80.00px;font-size:23.5px;line-height:23.5px;letter-spacing:-0.714px;">Daily Update – July 31, 2025</span>
<span class="t" style="left:105.80px;top:170.00px;font-size:22px;line-height:22px;letter-spacing:1.117px;-webkit-text-stroke:0.62px #000;">Aluminium (Aug</span>
<span class="t" style="left:297.80px;top:170.00px;font-size:22px;line-height:22px;letter-spacing:0.395px;-webkit-text-stroke:0.62px #000;">‘25) – Bullish </span>
<span class="t" style="left:435.80px;top:170.00px;font-size:22px;line-height:22px;letter-spacing:0.401px;-webkit-text-stroke:0.62px #000;">Trend / Buy at </span>
<span class="t" style="left:585.30px;top:170.00px;font-size:22px;line-height:22px;letter-spacing:0.314px;-webkit-text-stroke:0.62px #000;">CMP / Key </span>
<span class="t" style="left:699.30px;top:170.00px;font-size:22px;line-height:22px;letter-spacing:0.309px;-webkit-text-stroke:0.62px #000;">Support at Rs. 250</span>
<span class="t" style="left:176.80px;top:225.00px;font-size:20.8px;line-height:20.8px;letter-spacing:0.038px;-webkit-text-stroke:0.5px #000;">Bullish Trend:</span>
<span class="t" style="left:310.30px;top:225.00px;font-size:20.8px;line-height:20.8px;letter-spacing:-0.533px;">Buy at CMP </span>
<span class="t" style="left:420.80px;top:225.00px;font-size:20.8px;line-height:20.8px;letter-spacing:-0.846px;">(Rs. 253.9) </span>
<span class="t" style="left:519.30px;top:225.00px;font-size:20.8px;line-height:20.8px;letter-spacing:-0.005px;">or on a dip </span>
<span class="t" style="left:623.30px;top:225.00px;font-size:20.8px;line-height:20.8px;letter-spacing:-0.499px;">to Rs. 253.3 / </span>
<span class="t" style="left:745.30px;top:225.00px;font-size:20.8px;line-height:20.8px;letter-spacing:-0.268px;">Trend changes </span>
<span class="t" style="left:885.30px;top:225.00px;font-size:20.8px;line-height:20.8px;letter-spacing:-0.544px;">below Rs. 250.</span>
<span class="t" style="left:176.80px;top:261.00px;font-size:20.8px;line-height:20.8px;letter-spacing:-0.205px;">Stop loss for </span>
<span class="t" style="left:295.30px;top:261.00px;font-size:20.8px;line-height:20.8px;letter-spacing:-0.355px;">bullish trades </span>
<span class="t" style="left:418.30px;top:261.00px;font-size:20.8px;line-height:20.8px;letter-spacing:-0.109px;">below Rs. </span>
<span class="t" style="left:514.30px;top:261.00px;font-size:20.8px;line-height:20.8px;letter-spacing:0.172px;">251.50 / </span>
<span class="t" style="left:596.80px;top:261.00px;font-size:20.8px;line-height:20.8px;letter-spacing:-1.220px;">profit-booking </span>
<span class="t" style="left:710.30px;top:261.00px;font-size:20.8px;line-height:20.8px;letter-spacing:-0.106px;">zones at Rs. </span>
<span class="t" style="left:830.30px;top:261.00px;font-size:20.8px;line-height:20.8px;letter-spacing:0.473px;">255 and Rs. 261.</span>
<span class="t" style="left:292.00px;top:314.00px;font-size:13.7px;line-height:13.7px;letter-spacing:0.007px;-webkit-text-stroke:0.3px #000;">Pivot Point Analysis - Support &amp; Resistance</span>
<span class="t" style="left:622.30px;top:314.00px;font-size:13.7px;line-height:13.7px;letter-spacing:-0.200px;-webkit-text-stroke:0.3px #000;">Performance (% Change)</span>
<span class="t" style="left:837.60px;top:314.00px;font-size:13.7px;line-height:13.7px;letter-spacing:0.236px;-webkit-text-stroke:0.3px #000;">Trend, Volatility &amp; Open Interest</span>
<span class="t" style="left:121.30px;top:342.00px;font-size:13.7px;line-height:13.7px;letter-spacing:0.083px;-webkit-text-stroke:0.3px #000;">Domestic - MCX</span>
<span class="t" style="left:267.30px;top:342.00px;font-size:13.7px;line-height:13.7px;letter-spacing:-1.750px;-webkit-text-stroke:0.3px #000;">S2</span>
<span class="t" style="left:341.60px;top:342.00px;font-size:13.7px;line-height:13.7px;letter-spacing:-2.050px;-webkit-text-stroke:0.3px #000;">S1</span>
<span class="t" style="left:407.30px;top:342.00px;font-size:13.7px;line-height:13.7px;letter-spacing:-0.625px;-webkit-text-stroke:0.3px #000;">Close</span>
<span class="t" style="left:488.90px;top:342.00px;font-size:13.7px;line-height:13.7px;letter-spacing:-2.100px;-webkit-text-stroke:0.3px #000;">R1</span>
<span class="t" style="left:564.30px;top:342.00px;font-size:13.7px;line-height:13.7px;letter-spacing:-1.500px;-webkit-text-stroke:0.3px #000;">R2</span>
<span class="t" style="left:623.10px;top:342.00px;font-size:13.7px;line-height:13.7px;letter-spacing:-0.391px;-webkit-text-stroke:0.3px #000;">1 Day</span>
<span class="t" style="left:681.80px;top:342.00px;font-size:13.7px;line-height:13.7px;letter-spacing:0.004px;-webkit-text-stroke:0.3px #000;">1 Wk</span>
<span class="t" style="left:735.90px;top:342.00px;font-size:13.7px;line-height:13.7px;letter-spacing:-0.158px;-webkit-text-stroke:0.3px #000;">4 Wks</span>
<span class="t" style="left:800.90px;top:342.00px;font-size:13.7px;line-height:13.7px;letter-spacing:0.170px;-webkit-text-stroke:0.3px #000;">Short</span>
<span class="t" style="left:868.80px;top:342.00px;font-size:13.7px;line-height:13.7px;letter-spacing:0.491px;-webkit-text-stroke:0.3px #000;">Major</span>
<span class="t" style="left:925.60px;top:342.00px;font-size:13.7px;line-height:13.7px;letter-spacing:0.431px;-webkit-text-stroke:0.3px #000;">Volatility</span>
<span class="t" style="left:1006.30px;top:342.00px;font-size:13.7px;line-height:13.7px;letter-spacing:-0.275px;-webkit-text-stroke:0.3px #000;">OI Change</span>
<span class="t" style="left:109.30px;top:370.00px;font-size:13.7px;line-height:13.7px;letter-spacing:-0.233px;-webkit-text-stroke:0.3px #000;">Base Metals</span>
<span class="t" style="left:109.30px;top:398.00px;font-size:13.7px;line-height:13.7px;letter-spacing:0.074px;">Aluminium</span>
<span class="t" style="left:271.90px;top:398.00px;font-size:13.7px;line-height:13.7px;letter-spacing:-0.716px;color:#2aa865;">252.7</span>
<span class="t" style="left:346.00px;top:398.00px;font-size:13.7px;line-height:13.7px;letter-spacing:-0.591px;color:#2aa865;">253.3</span>
<span class="t" style="left:412.80px;top:398.00px;font-size:13.7px;line-height:13.7px;letter-spacing:-0.395px;">253.85</span>
<span class="t" style="left:494.30px;top:398.00px;font-size:13.7px;line-height:13.7px;letter-spacing:-0.441px;color:#e03a3e;">254.7</span>
<span class="t" style="left:571.30px;top:398.00px;font-size:13.7px;line-height:13.7px;letter-spacing:-0.566px;color:#e03a3e;">255.5</span>
<span class="t" style="left:640.30px;top:398.00px;font-size:13.7px;line-height:13.7px;letter-spacing:-0.714px;color:#3aa6dd;">0.18</span>
<span class="t" style="left:693.30px;top:398.00px;font-size:13.7px;line-height:13.7px;letter-spacing:-0.376px;color:#b3222f;">-0.30</span>
<span class="t" style="left:755.10px;top:398.00px;font-size:13.7px;line-height:13.7px;letter-spacing:-0.814px;color:#3aa6dd;">0.98</span>
<span class="t" style="left:789.90px;top:398.00px;font-size:13.7px;line-height:13.7px;letter-spacing:-0.513px;">Sideways</span>
<span class="t" style="left:877.90px;top:398.00px;font-size:13.7px;line-height:13.7px;letter-spacing:-0.500px;color:#2aa865;">Up</span>
<span class="t" style="left:938.90px;top:398.00px;font-size:13.7px;line-height:13.7px;letter-spacing:-0.085px;color:#e9975a;">High</span>
<span class="t" style="left:1000.30px;top:398.00px;font-size:13.7px;line-height:13.7px;letter-spacing:-0.102px;color:#2aa865;">Long Buildup</span>
<span class="t" style="left:979.30px;top:455.00px;font-size:16.9px;line-height:16.9px;letter-spacing:-0.355px;">Daily Chart</span>
<span class="t" style="left:136.30px;top:921.00px;font-size:16.9px;line-height:16.9px;letter-spacing:-0.036px;">Aluminium (Aug</span>
<span class="t" style="left:273.05px;top:921.00px;font-size:16.9px;line-height:16.9px;letter-spacing:-0.453px;">‘25)—</span>
<span class="t" style="left:136.30px;top:950.00px;font-size:16.9px;line-height:16.9px;letter-spacing:-0.298px;">Trend remains Bullish</span>
<span class="t" style="left:136.30px;top:979.00px;font-size:16.9px;line-height:16.9px;letter-spacing:-0.363px;">UNTIL we close below</span>
<span class="t" style="left:136.30px;top:1009.00px;font-size:16.9px;line-height:16.9px;letter-spacing:-1.058px;">Rs. 250.</span>
<span class="t" style="left:109.30px;top:1081.00px;font-size:13.5px;line-height:13.5px;letter-spacing:0.207px;font-style:italic;">Please note: </span>
<span class="t" style="left:190.80px;top:1081.00px;font-size:13.5px;line-height:13.5px;letter-spacing:0.174px;font-style:italic;">Top Panel: 1) </span>
<span class="t" style="left:276.80px;top:1081.00px;font-size:13.5px;line-height:13.5px;letter-spacing:0.222px;font-style:italic;">The dashed </span>
<span class="t" style="left:354.30px;top:1081.00px;font-size:13.5px;line-height:13.5px;letter-spacing:0.302px;font-style:italic;">black line is the </span>
<span class="t" style="left:455.80px;top:1081.00px;font-size:13.5px;line-height:13.5px;letter-spacing:0.464px;font-style:italic;">20-period EMA, </span>
<span class="t" style="left:560.30px;top:1081.00px;font-size:13.5px;line-height:13.5px;letter-spacing:0.445px;font-style:italic;">while the </span>
<span class="t" style="left:621.80px;top:1081.00px;font-size:13.5px;line-height:13.5px;letter-spacing:0.364px;font-style:italic;">solid red line </span>
<span class="t" style="left:706.80px;top:1081.00px;font-size:13.5px;line-height:13.5px;letter-spacing:0.424px;font-style:italic;">is the </span>
<span class="t" style="left:745.80px;top:1081.00px;font-size:13.5px;line-height:13.5px;letter-spacing:0.770px;font-style:italic;">50-period </span>
<span class="t" style="left:814.30px;top:1081.00px;font-size:13.5px;line-height:13.5px;letter-spacing:0.593px;font-style:italic;">Weighted MA; </span>
<span class="t" style="left:910.30px;top:1081.00px;font-size:13.5px;line-height:13.5px;letter-spacing:0.367px;font-style:italic;">the </span>
<span class="t" style="left:934.30px;top:1081.00px;font-size:13.5px;line-height:13.5px;letter-spacing:0.775px;font-style:italic;">intermediate-term </span>
<span class="t" style="left:1057.80px;top:1081.00px;font-size:13.5px;line-height:13.5px;letter-spacing:1.180px;font-style:italic;">trend</span>
<span class="t" style="left:118.30px;top:1107.00px;font-size:13.5px;line-height:13.5px;letter-spacing:0.143px;font-style:italic;">is bullish, </span>
<span class="t" style="left:179.30px;top:1107.00px;font-size:13.5px;line-height:13.5px;letter-spacing:0.328px;font-style:italic;">when the </span>
<span class="t" style="left:240.80px;top:1107.00px;font-size:13.5px;line-height:13.5px;letter-spacing:0.547px;font-style:italic;">20-ema is </span>
<span class="t" style="left:309.30px;top:1107.00px;font-size:13.5px;line-height:13.5px;letter-spacing:0.542px;font-style:italic;">higher than the </span>
<span class="t" style="left:411.80px;top:1107.00px;font-size:13.5px;line-height:13.5px;letter-spacing:0.541px;font-style:italic;">50-wma and </span>
<span class="t" style="left:495.80px;top:1107.00px;font-size:13.5px;line-height:13.5px;letter-spacing:0.171px;font-style:italic;">vice versa; 2)</span>
<span class="t" style="left:591.80px;top:1107.00px;font-size:13.5px;line-height:13.5px;letter-spacing:0.594px;font-style:italic;">‘Blue’</span>
<span class="t" style="left:639.30px;top:1107.00px;font-size:13.5px;line-height:13.5px;letter-spacing:0.336px;font-style:italic;">bars indicate </span>
<span class="t" style="left:724.30px;top:1107.00px;font-size:13.5px;line-height:13.5px;letter-spacing:0.497px;font-style:italic;">positive </span>
<span class="t" style="left:778.30px;top:1107.00px;font-size:13.5px;line-height:13.5px;letter-spacing:0.749px;font-style:italic;">short-term </span>
<span class="t" style="left:851.80px;top:1107.00px;font-size:13.5px;line-height:13.5px;letter-spacing:0.847px;font-style:italic;">momentum, </span>
<span class="t" style="left:935.30px;top:1107.00px;font-size:13.5px;line-height:13.5px;letter-spacing:0.305px;font-style:italic;">and </span>
<span class="t" style="left:962.80px;top:1107.00px;font-size:13.5px;line-height:13.5px;letter-spacing:0.634px;font-style:italic;">oscillator </span>
<span class="t" style="left:1026.80px;top:1107.00px;font-size:13.5px;line-height:13.5px;letter-spacing:0.119px;font-style:italic;">readings,</span>
<span class="t" style="left:112.80px;top:1132.00px;font-size:13.5px;line-height:13.5px;letter-spacing:0.349px;font-style:italic;">and suggest </span>
<span class="t" style="left:194.30px;top:1132.00px;font-size:13.5px;line-height:13.5px;letter-spacing:0.527px;font-style:italic;">traders </span>
<span class="t" style="left:244.30px;top:1132.00px;font-size:13.5px;line-height:13.5px;letter-spacing:0.302px;font-style:italic;">consider </span>
<span class="t" style="left:301.80px;top:1132.00px;font-size:13.5px;line-height:13.5px;letter-spacing:0.520px;font-style:italic;">buy-setups;</span>
<span class="t" style="left:392.80px;top:1132.00px;font-size:13.5px;line-height:13.5px;letter-spacing:1.246px;font-style:italic;">‘red’</span>
<span class="t" style="left:433.30px;top:1132.00px;font-size:13.5px;line-height:13.5px;letter-spacing:0.309px;font-style:italic;">bars on the </span>
<span class="t" style="left:508.30px;top:1132.00px;font-size:13.5px;line-height:13.5px;letter-spacing:0.608px;font-style:italic;">other hand </span>
<span class="t" style="left:583.30px;top:1132.00px;font-size:13.5px;line-height:13.5px;letter-spacing:0.634px;font-style:italic;">indicate </span>
<span class="t" style="left:639.30px;top:1132.00px;font-size:13.5px;line-height:13.5px;letter-spacing:0.246px;font-style:italic;">bearish </span>
<span class="t" style="left:689.30px;top:1132.00px;font-size:13.5px;line-height:13.5px;letter-spacing:0.847px;font-style:italic;">momentum. </span>
<span class="t" style="left:772.80px;top:1132.00px;font-size:13.5px;line-height:13.5px;letter-spacing:0.853px;font-style:italic;">Bottom </span>
<span class="t" style="left:825.30px;top:1132.00px;font-size:13.5px;line-height:13.5px;letter-spacing:-0.076px;font-style:italic;">Panel: </span>
<span class="t" style="left:866.80px;top:1132.00px;font-size:13.5px;line-height:13.5px;letter-spacing:0.170px;font-style:italic;">Shows the </span>
<span class="t" style="left:935.30px;top:1132.00px;font-size:13.5px;line-height:13.5px;letter-spacing:0.720px;font-style:italic;">14-period </span>
<span class="t" style="left:1003.30px;top:1132.00px;font-size:13.5px;line-height:13.5px;letter-spacing:-0.066px;font-style:italic;">RSI </span>
<span class="t" style="left:1029.30px;top:1132.00px;font-size:13.5px;line-height:13.5px;letter-spacing:0.469px;font-style:italic;">indicator.</span>
<span class="t" style="left:105.80px;top:1174.00px;font-size:18.2px;line-height:18.2px;letter-spacing:0.083px;">Disclaimer: </span>
<span class="t" style="left:201.80px;top:1174.00px;font-size:18.2px;line-height:18.2px;letter-spacing:-0.311px;">There is a </span>
<span class="t" style="left:284.30px;top:1174.00px;font-size:18.2px;line-height:18.2px;letter-spacing:0.052px;">risk of loss in </span>
<span class="t" style="left:395.30px;top:1174.00px;font-size:18.2px;line-height:18.2px;letter-spacing:0.375px;">trading in </span>
<span class="t" style="left:479.30px;top:1174.00px;font-size:18.2px;line-height:18.2px;letter-spacing:0.042px;">derivatives </span>
<span class="t" style="left:571.80px;top:1174.00px;font-size:18.2px;line-height:18.2px;letter-spacing:0.408px;">and the </span>
<span class="t" style="left:640.80px;top:1174.00px;font-size:18.2px;line-height:18.2px;letter-spacing:0.279px;">report is not </span>
<span class="t" style="left:745.80px;top:1174.00px;font-size:18.2px;line-height:18.2px;letter-spacing:0.497px;">to be </span>
<span class="t" style="left:794.30px;top:1174.00px;font-size:18.2px;line-height:18.2px;letter-spacing:0.139px;">construed as </span>
<span class="t" style="left:905.30px;top:1174.00px;font-size:18.2px;line-height:18.2px;letter-spacing:0.455px;">investment </span>
<span class="t" style="left:1003.30px;top:1174.00px;font-size:18.2px;line-height:18.2px;letter-spacing:-0.211px;">advice. </span>
<span class="t" style="left:1064.30px;top:1174.00px;font-size:18.2px;line-height:18.2px;letter-spacing:-1.172px;">The</span>
<span class="t" style="left:105.80px;top:1207.00px;font-size:18.2px;line-height:18.2px;letter-spacing:0.622px;">information </span>
<span class="t" style="left:208.30px;top:1207.00px;font-size:18.2px;line-height:18.2px;letter-spacing:0.124px;">provided in this </span>
<span class="t" style="left:337.80px;top:1207.00px;font-size:18.2px;line-height:18.2px;letter-spacing:-0.177px;">report is </span>
<span class="t" style="left:406.80px;top:1207.00px;font-size:18.2px;line-height:18.2px;letter-spacing:0.184px;">intended </span>
<span class="t" style="left:483.30px;top:1207.00px;font-size:18.2px;line-height:18.2px;letter-spacing:0.287px;">solely for </span>
<span class="t" style="left:564.30px;top:1207.00px;font-size:18.2px;line-height:18.2px;letter-spacing:0.290px;">informative </span>
<span class="t" style="left:661.80px;top:1207.00px;font-size:18.2px;line-height:18.2px;letter-spacing:-0.144px;">purposes. </span>
<span class="t" style="left:745.30px;top:1207.00px;font-size:18.2px;line-height:18.2px;letter-spacing:0.035px;">The author, </span>
<span class="t" style="left:842.80px;top:1207.00px;font-size:18.2px;line-height:18.2px;letter-spacing:0.320px;">directors </span>
<span class="t" style="left:920.80px;top:1207.00px;font-size:18.2px;line-height:18.2px;letter-spacing:0.059px;">and other </span>
<span class="t" style="left:1003.30px;top:1207.00px;font-size:18.2px;line-height:18.2px;letter-spacing:0.254px;">employees</span>
<span class="t" style="left:105.80px;top:1240.00px;font-size:18.2px;line-height:18.2px;letter-spacing:-0.091px;">of CC </span>
<span class="t" style="left:156.80px;top:1240.00px;font-size:18.2px;line-height:18.2px;letter-spacing:0.447px;">Commodity </span>
<span class="t" style="left:258.30px;top:1240.00px;font-size:18.2px;line-height:18.2px;letter-spacing:0.129px;">Info Services </span>
<span class="t" style="left:370.30px;top:1240.00px;font-size:18.2px;line-height:18.2px;letter-spacing:-0.159px;">LLP cannot </span>
<span class="t" style="left:465.30px;top:1240.00px;font-size:18.2px;line-height:18.2px;letter-spacing:0.221px;">be held </span>
<span class="t" style="left:531.80px;top:1240.00px;font-size:18.2px;line-height:18.2px;letter-spacing:0.118px;">responsible </span>
<span class="t" style="left:631.30px;top:1240.00px;font-size:18.2px;line-height:18.2px;letter-spacing:0.922px;">for the </span>
<span class="t" style="left:695.30px;top:1240.00px;font-size:18.2px;line-height:18.2px;letter-spacing:0.194px;">accuracy of the </span>
<span class="t" style="left:826.80px;top:1240.00px;font-size:18.2px;line-height:18.2px;letter-spacing:0.622px;">information </span>
<span class="t" style="left:929.30px;top:1240.00px;font-size:18.2px;line-height:18.2px;letter-spacing:0.305px;">presented </span>
<span class="t" style="left:1018.30px;top:1240.00px;font-size:18.2px;line-height:18.2px;letter-spacing:0.411px;">herein </span>
<span class="t" style="left:1076.80px;top:1240.00px;font-size:18.2px;line-height:18.2px;letter-spacing:0.328px;">or</span>
<span class="t" style="left:105.80px;top:1273.00px;font-size:18.2px;line-height:18.2px;letter-spacing:0.516px;">for the results </span>
<span class="t" style="left:229.30px;top:1273.00px;font-size:18.2px;line-height:18.2px;letter-spacing:0.064px;">of the positions </span>
<span class="t" style="left:357.80px;top:1273.00px;font-size:18.2px;line-height:18.2px;letter-spacing:0.070px;">taken based </span>
<span class="t" style="left:462.80px;top:1273.00px;font-size:18.2px;line-height:18.2px;letter-spacing:0.316px;">on the opinions </span>
<span class="t" style="left:596.30px;top:1273.00px;font-size:18.2px;line-height:18.2px;letter-spacing:-0.097px;">expressed </span>
<span class="t" style="left:684.30px;top:1273.00px;font-size:18.2px;line-height:18.2px;letter-spacing:-0.422px;">above.</span>
</div>
</body></html>
